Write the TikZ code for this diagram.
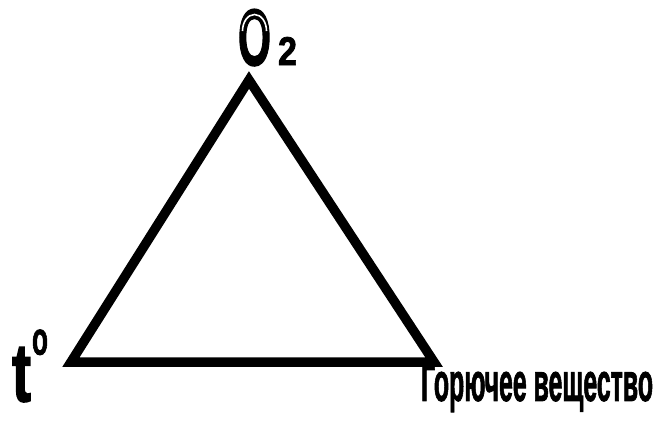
\documentclass[tikz,border=0pt]{standalone}
\usepackage{fontspec}
\setmainfont{Liberation Sans}[BoldFeatures={FakeBold=2}]
\begin{document}
\begin{tikzpicture}[x=1pt,y=-1pt]
\tikzset{lbl/.style={inner sep=0pt, outer sep=0pt, font=\bfseries}}
\useasboundingbox (0,0) rectangle (660,423);
\coordinate (apex) at (249,80);
\coordinate (bl) at (71,362);
\coordinate (br) at (434,362);
\draw[line width=9.5pt, line join=miter, miter limit=10] (apex) -- (bl) -- (br) -- cycle;
\node[lbl, anchor=south west] (oxy) at (238,66) {\resizebox{33pt}{56pt}{\bfseries O}};
\draw[white, line width=1.6pt] (242.5,31) arc[start angle=180, end angle=360, x radius=12, y radius=16.5];
\node[lbl, anchor=south west] (two) at (278,65) {\resizebox{19pt}{28pt}{\bfseries 2}};
\node[lbl, anchor=south west] (t) at (12,402) {\resizebox{19pt}{54pt}{\bfseries t}};
\node[lbl, anchor=south west] (deg) at (32,355) {\resizebox{16pt}{25pt}{\bfseries o}};
\node[lbl, anchor=south west] (fuel) at (421,412) {\resizebox{232pt}{37pt}{\bfseries Горючее вещество}};
\end{tikzpicture}
\end{document}
